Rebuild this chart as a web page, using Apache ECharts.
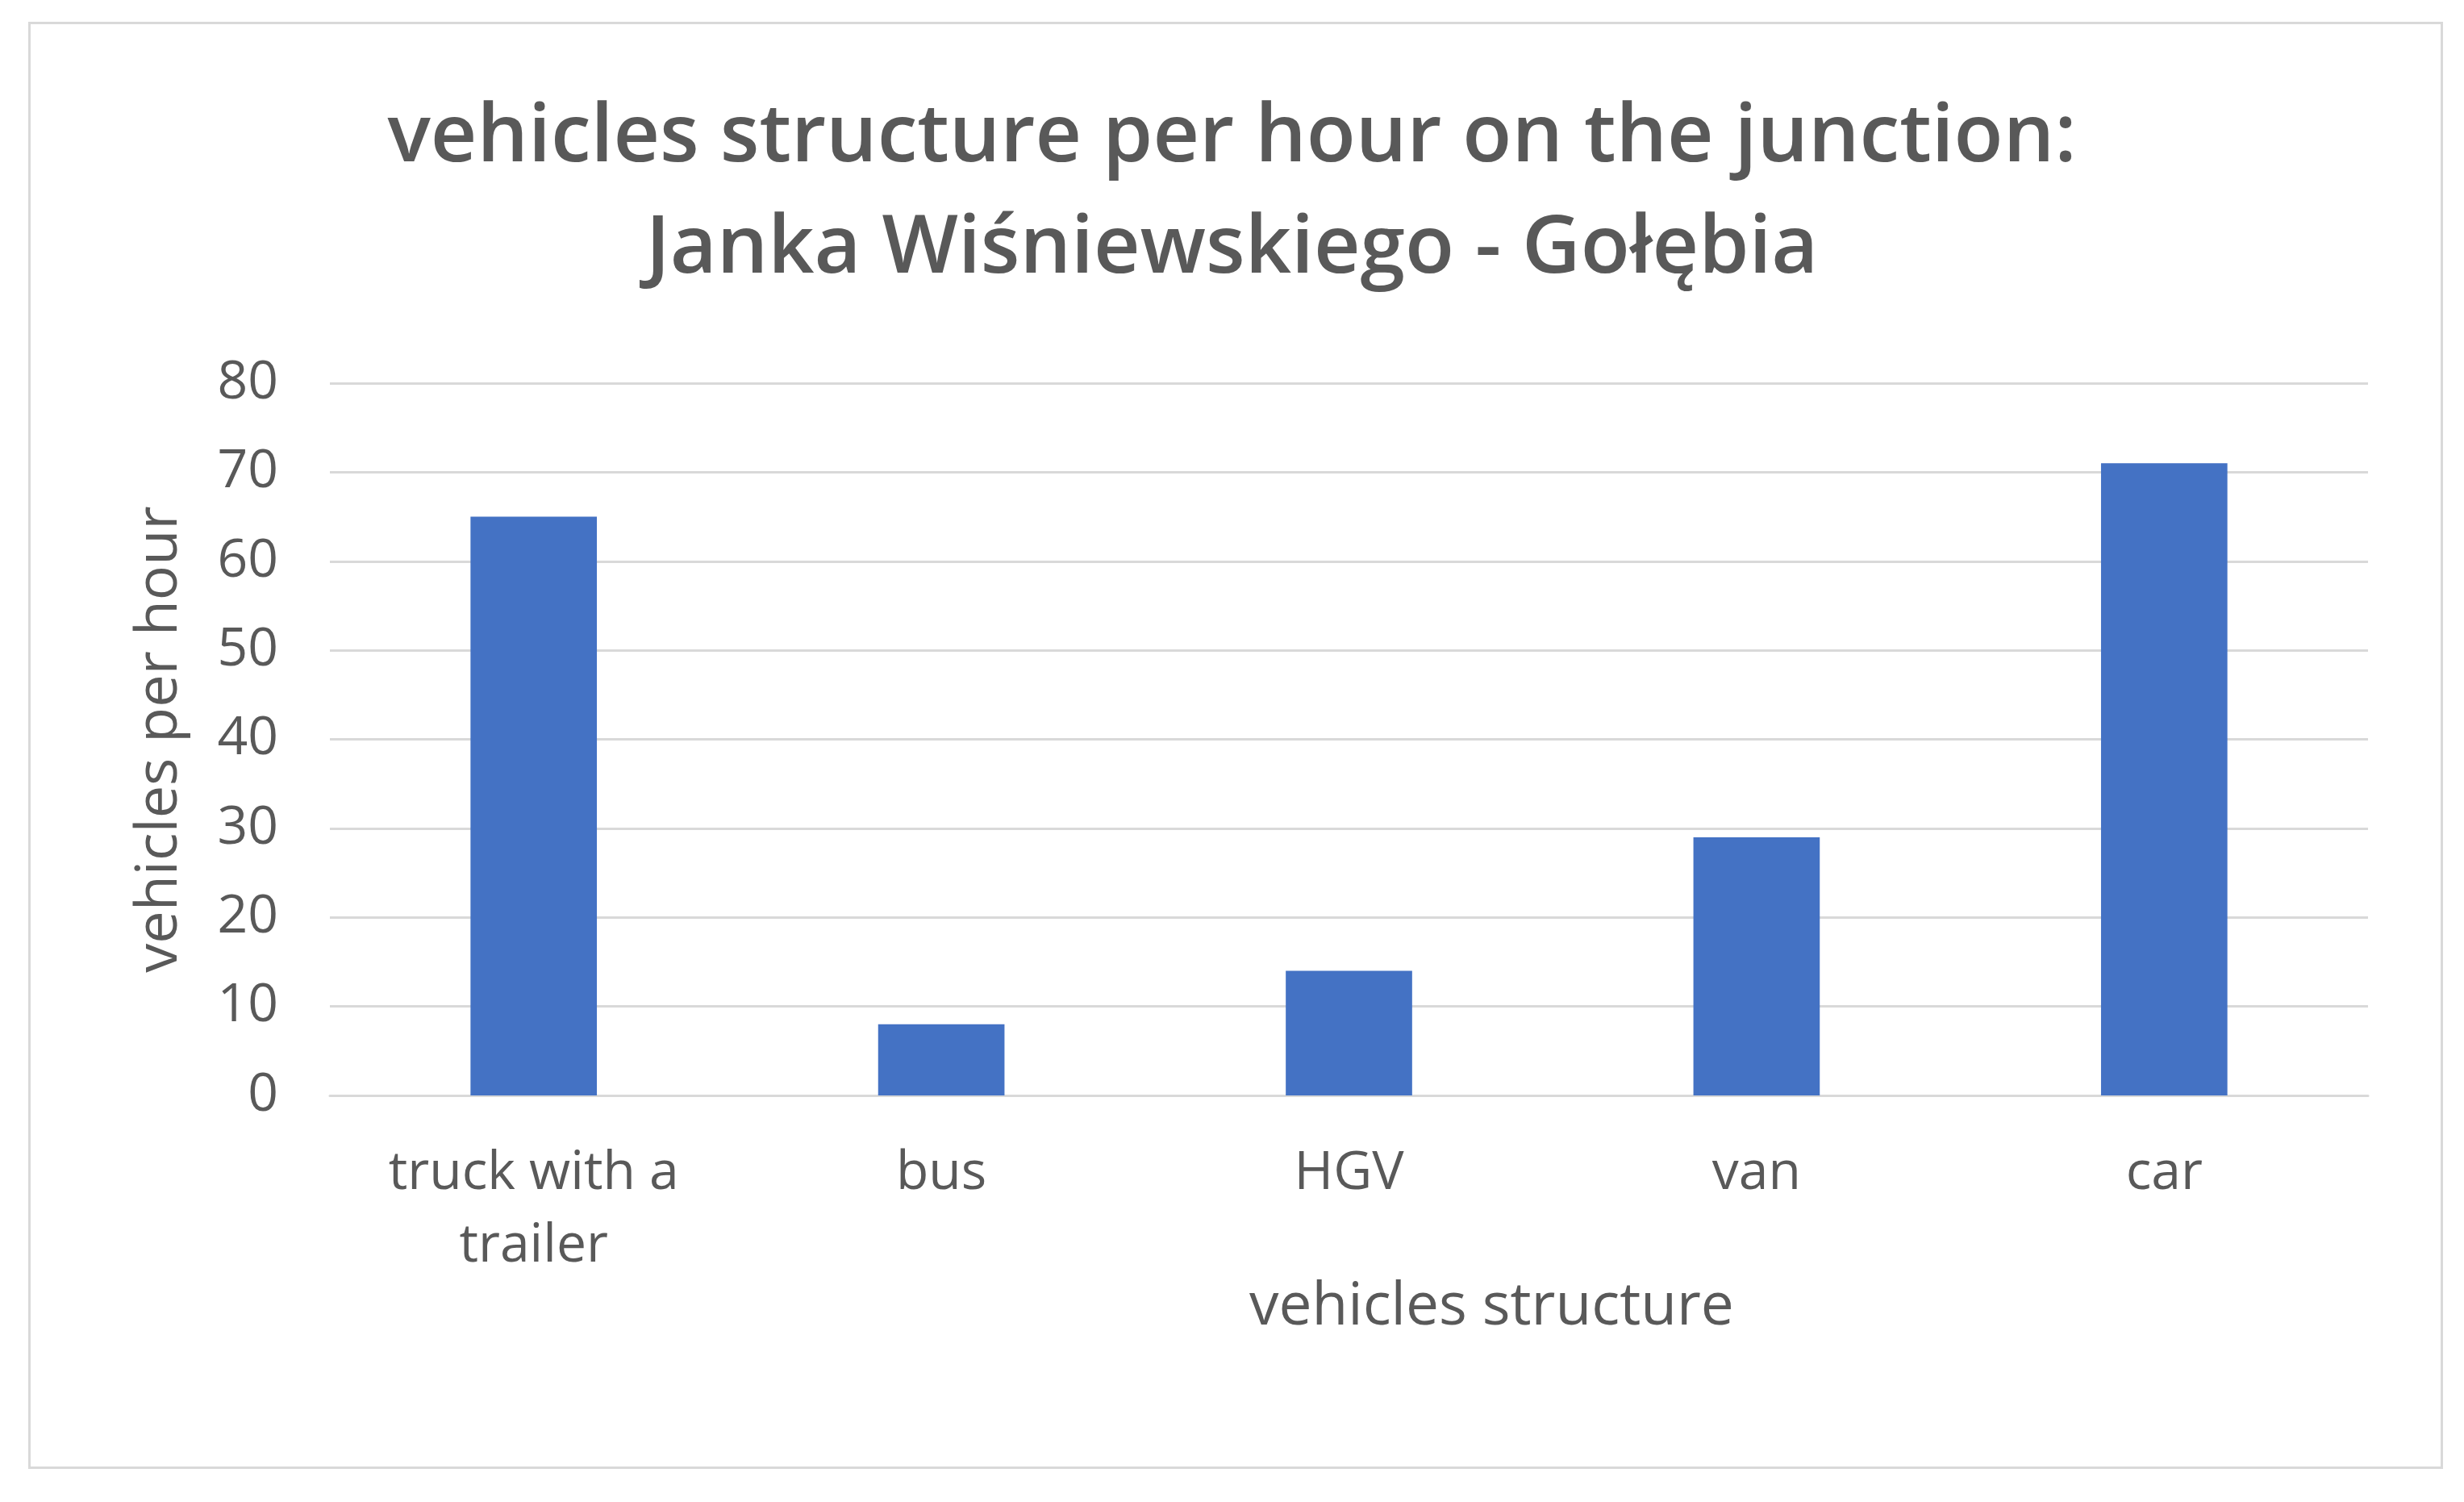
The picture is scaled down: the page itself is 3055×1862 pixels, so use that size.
<!DOCTYPE html>
<html><head><meta charset="utf-8">
<script src="https://cdn.jsdelivr.net/npm/echarts@6/dist/echarts.min.js"></script>
<style>html,body{margin:0;padding:0;background:#fff}#c{width:3055px;height:1862px}
#frame{position:absolute;left:35px;top:27px;width:2994px;height:1794px;border:3px solid #d9d9d9;box-sizing:border-box;pointer-events:none}</style>
</head><body><div id="c"></div><div id="frame"></div>
<script>
const categories = ["truck with a\ntrailer", "bus", "HGV", "van", "car"];
const values = [65, 8, 14, 29, 71];
const yTicks = {min: 0, max: 80, interval: 10};
const xName = "vehicles structure";
const yName = "vehicles per hour";
const font = "Open Sans";
const chart = echarts.init(document.getElementById('c'));
chart.setOption({
  animation: false,
  title: {
    text: "vehicles structure per hour on the junction:\nJanka Wiśniewskiego - Gołębia",
    left: 'center', top: 98,
    textStyle: {fontFamily: font, fontSize: 100, fontWeight: 600, color: '#595959', lineHeight: 138}
  },
  graphic: [{
    type: 'text', left: 1549, top: 1585,
    style: {text: xName, fontFamily: font, fontSize: 73, fill: '#595959', align: 'center', verticalAlign: 'middle'},
    x: 0
  }],
  grid: {left: 409, right: 119, top: 475, bottom: 504},
  xAxis: {
    type: 'category', data: categories,
    axisTick: {show: false},
    axisLine: {lineStyle: {color: '#d9d9d9', width: 3}},
    axisLabel: {fontFamily: font, fontSize: 66, color: '#595959', margin: 52, lineHeight: 90}
  },
  yAxis: {
    type: 'value', min: yTicks.min, max: yTicks.max, interval: yTicks.interval,
    name: yName, nameLocation: 'middle', nameGap: 175,
    nameTextStyle: {fontFamily: font, fontSize: 72, color: '#595959'},
    axisLabel: {fontFamily: font, fontSize: 66, color: '#595959', margin: 64},
    splitLine: {lineStyle: {color: '#d9d9d9', width: 3}},
    axisLine: {show: false}, axisTick: {show: false}
  },
  series: [{type: 'bar', data: values, barWidth: '31%', itemStyle: {color: '#4472c4'}}]
});
</script></body></html>
